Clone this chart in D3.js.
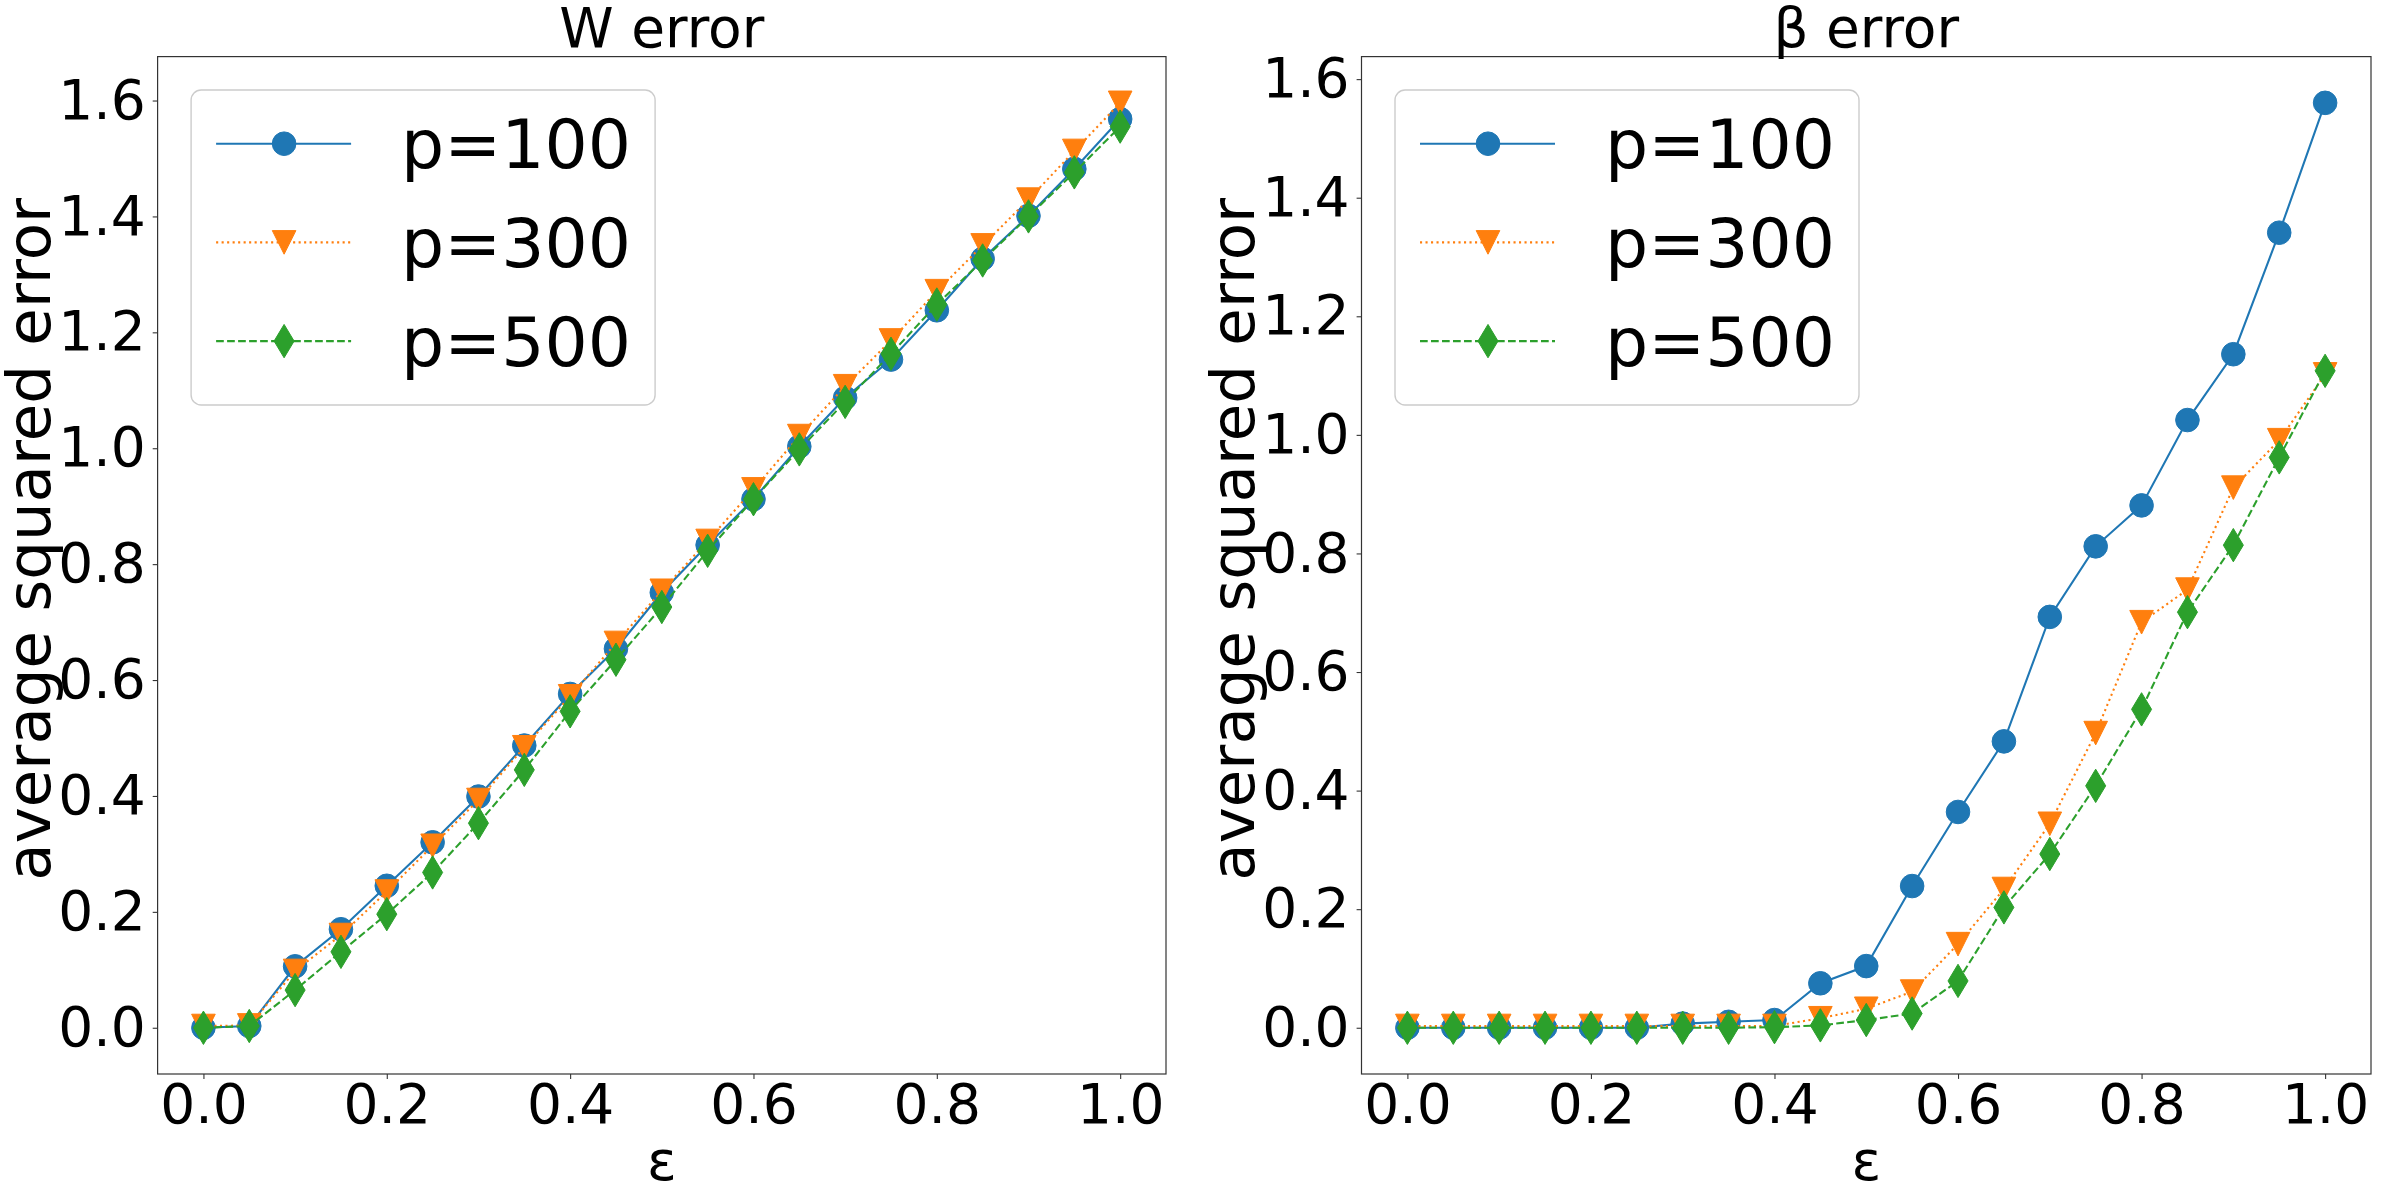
<!DOCTYPE html>
<html>
<head>
<meta charset="utf-8">
<script src="https://cdn.jsdelivr.net/npm/d3@7"></script>
<style>
  body { margin: 0; background: #fff; }
  text { font-family: "DejaVu Sans", sans-serif; fill: #000; }
</style>
</head>
<body>
<svg id="chart" width="2392" height="1196"></svg>
<script>
// epsilon values on the x axis
const eps = [0.0, 0.05, 0.1, 0.15, 0.2, 0.25, 0.3, 0.35, 0.4, 0.45, 0.5,
             0.55, 0.6, 0.65, 0.7, 0.75, 0.8, 0.85, 0.9, 0.95, 1.0];

// W error panel
const wP100 = [0.000, 0.003, 0.106, 0.170, 0.245, 0.320, 0.399, 0.487, 0.576, 0.654, 0.751,
               0.833, 0.912, 1.003, 1.087, 1.153, 1.238, 1.327, 1.401, 1.482, 1.568];
const wP300 = [0.003, 0.004, 0.098, 0.160, 0.235, 0.314, 0.393, 0.484, 0.572, 0.664, 0.754,
               0.840, 0.929, 1.021, 1.107, 1.186, 1.271, 1.350, 1.429, 1.513, 1.596];
const wP500 = [0.000, 0.003, 0.065, 0.131, 0.196, 0.268, 0.353, 0.445, 0.546, 0.635, 0.726,
               0.823, 0.912, 0.998, 1.080, 1.163, 1.248, 1.324, 1.400, 1.476, 1.555];

// beta error panel
const bP100 = [0.000, 0.000, 0.000, 0.000, 0.000, 0.000, 0.007, 0.010, 0.013, 0.075, 0.104,
               0.239, 0.364, 0.483, 0.693, 0.812, 0.881, 1.025, 1.136, 1.341, 1.560];
const bP300 = [0.003, 0.003, 0.003, 0.003, 0.003, 0.003, 0.003, 0.003, 0.003, 0.016, 0.032,
               0.061, 0.141, 0.234, 0.344, 0.497, 0.684, 0.739, 0.911, 0.991, 1.102];
const bP500 = [0.000, 0.000, 0.000, 0.000, 0.000, 0.000, 0.000, 0.000, 0.001, 0.004, 0.013,
               0.024, 0.079, 0.203, 0.293, 0.408, 0.537, 0.701, 0.814, 0.962, 1.108];

const seriesLabels = ["p=100", "p=300", "p=500"];
const xTicks = [0.0, 0.2, 0.4, 0.6, 0.8, 1.0];
const yTicks = [0.0, 0.2, 0.4, 0.6, 0.8, 1.0, 1.2, 1.4, 1.6];

const styles = [
  {color: "#1f77b4", dash: null,        marker: "circle"},
  {color: "#ff7f0e", dash: "2.1,3.4",   marker: "tri"},
  {color: "#2ca02c", dash: "7.7,3.3",   marker: "diamond"}
];

const svg = d3.select("#chart");
const FS = 55;       // tick / title font size
const YFS = 61;      // y label font size
const LFS = 68;      // legend font size
const MS = 23.6;     // marker size
const LW = 2.08;

function markerPath(type, s) {
  const h = s / 2;
  if (type === "circle") return d3.symbol(d3.symbolCircle, Math.PI * h * h)();
  if (type === "tri") return `M0,${h}L${-h},${-h}L${h},${-h}Z`;
  const dx = 0.6 * s * Math.SQRT1_2, dy = s * Math.SQRT1_2;
  return `M0,${-dy}L${dx},0L0,${dy}L${-dx},0Z`;
}

function drawPanel(p) {
  const x = d3.scaleLinear().domain([-0.05, 1.05]).range([p.left, p.right]);
  const all = p.values.flat();
  const lo = d3.min(all), hi = d3.max(all), pad = (hi - lo) * 0.05;
  const y = d3.scaleLinear().domain([lo - pad, hi + pad]).range([p.bottom, p.top]);

  const gx = svg.append("g")
      .attr("transform", `translate(0,${p.bottom})`)
      .call(d3.axisBottom(x).tickValues(xTicks).tickFormat(d3.format(".1f")).tickSize(4.9).tickPadding(5));
  const gy = svg.append("g")
      .attr("transform", `translate(${p.left},0)`)
      .call(d3.axisLeft(y).tickValues(yTicks).tickFormat(d3.format(".1f")).tickSize(4.9).tickPadding(7));
  [gx, gy].forEach(g => {
    g.select(".domain").remove();
    g.selectAll("line").attr("stroke", "#333").attr("stroke-width", 1.1);
    g.selectAll("text").attr("font-size", FS).attr("font-family", "DejaVu Sans").attr("fill", "#000");
  });

  // frame
  svg.append("rect")
      .attr("x", p.left).attr("y", p.top)
      .attr("width", p.right - p.left).attr("height", p.bottom - p.top)
      .attr("fill", "none").attr("stroke", "#333").attr("stroke-width", 1.2);

  const line = d3.line().x((d, i) => x(eps[i])).y(d => y(d));

  p.values.forEach((vals, k) => {
    const st = styles[k];
    svg.append("path")
        .datum(vals)
        .attr("d", line)
        .attr("fill", "none")
        .attr("stroke", st.color)
        .attr("stroke-width", LW)
        .attr("stroke-dasharray", st.dash);
    svg.selectAll(null)
        .data(vals)
        .enter()
        .append("path")
        .attr("d", markerPath(st.marker, MS))
        .attr("transform", (d, i) => `translate(${x(eps[i])},${y(d)})`)
        .attr("fill", st.color)
        .attr("stroke", st.color)
        .attr("stroke-width", 1);
  });

  const cx = (p.left + p.right) / 2;
  svg.append("text")
      .attr("x", cx).attr("y", 46.7)
      .attr("text-anchor", "middle").attr("font-size", FS)
      .text(p.title);
  svg.append("text")
      .attr("x", cx).attr("y", 1180)
      .attr("text-anchor", "middle").attr("font-size", FS)
      .text("ε");
  svg.append("text")
      .attr("transform", `translate(${p.left - 107.5},${(p.top + p.bottom) / 2 - 26}) rotate(-90)`)
      .attr("text-anchor", "middle").attr("font-size", YFS)
      .text("average squared error");

  // legend
  const lx = p.left + 33.5, ly = 90;
  const lg = svg.append("g").attr("transform", `translate(${lx},${ly})`);
  lg.append("rect")
      .attr("width", 464).attr("height", 315).attr("rx", 10)
      .attr("fill", "#fff").attr("fill-opacity", 0.8)
      .attr("stroke", "#ccc").attr("stroke-width", 1.4);
  seriesLabels.forEach((lab, k) => {
    const st = styles[k];
    const ry = 53.7 + k * 98.7;
    lg.append("line")
        .attr("x1", 25).attr("x2", 160).attr("y1", ry).attr("y2", ry)
        .attr("stroke", st.color).attr("stroke-width", LW)
        .attr("stroke-dasharray", st.dash);
    lg.append("path")
        .attr("d", markerPath(st.marker, MS))
        .attr("transform", `translate(93,${ry})`)
        .attr("fill", st.color).attr("stroke", st.color).attr("stroke-width", 1);
    lg.append("text")
        .attr("x", 210).attr("y", ry + 24.6)
        .attr("font-size", LFS)
        .text(lab);
  });
}

drawPanel({left: 157.6, right: 1166, top: 56.6, bottom: 1074, title: "W error",
           values: [wP100, wP300, wP500]});
drawPanel({left: 1361.5, right: 2371, top: 56.6, bottom: 1074, title: "β error",
           values: [bP100, bP300, bP500]});
</script>
</body>
</html>
